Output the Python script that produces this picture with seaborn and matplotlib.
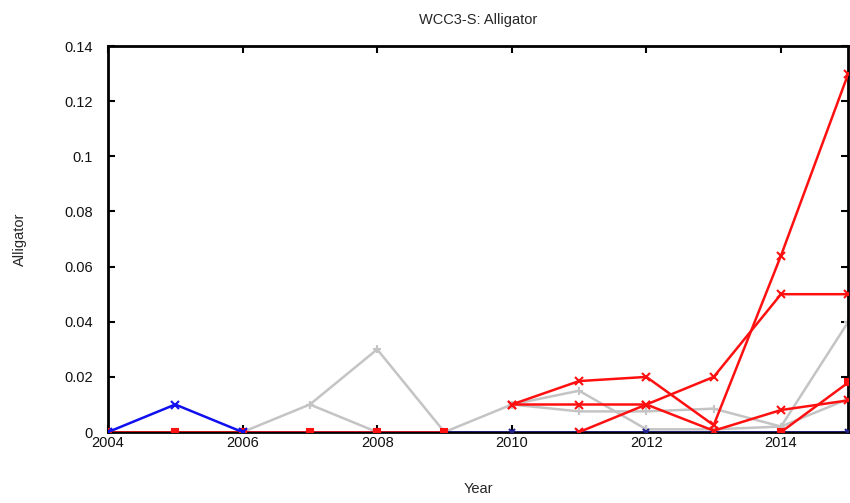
import numpy as np
import pandas as pd
import matplotlib
matplotlib.use("Agg")
import matplotlib.pyplot as plt
import seaborn as sns

years = [2004, 2005, 2006, 2007, 2008, 2009, 2010, 2011, 2012, 2013, 2014, 2015]
nan = np.nan

blue_a = [0, 0.01, 0, nan, nan, nan, nan, nan, nan, nan, nan, nan]
blue_zero = [nan, nan, 0, 0, 0, 0, 0, 0, 0, 0, 0, 0]
red_zero = [0, 0, 0, 0, 0, 0, nan, nan, nan, nan, nan, nan]
gray_a = [nan, nan, 0, 0.01, 0.03, 0, 0.01, 0.015, 0.001, 0.001, 0.002, 0.04]
gray_b = [nan, nan, nan, 0.01, 0, nan, nan, nan, nan, nan, nan, nan]
gray_c = [nan, nan, nan, nan, nan, nan, 0.01, 0.0075, 0.0075, 0.0085, 0.002, 0.012]
red_a = [nan, nan, nan, nan, nan, nan, 0.01, 0.0185, 0.02, 0.0025, 0.064, 0.13]
red_b = [nan, nan, nan, nan, nan, nan, 0.01, 0.01, 0.01, 0.0005, 0.008, 0.0115]
red_c = [nan, nan, nan, nan, nan, nan, nan, 0, 0.01, 0.02, 0.05, 0.05]
red_d = [nan, nan, nan, nan, nan, nan, nan, nan, nan, nan, 0, 0.018]

ytick_vals = [0, 0.02, 0.04, 0.06, 0.08, 0.1, 0.12, 0.14]
ytick_labels = ["0", "0.02", "0.04", "0.06", "0.08", "0.1", "0.12", "0.14"]
xtick_vals = [2004, 2006, 2008, 2010, 2012, 2014]

sns.set_theme(style="white")
plt.rcParams["font.family"] = ["Liberation Sans", "DejaVu Sans"]

fig = plt.figure(figsize=(8.5, 5.03), dpi=100)
ax = fig.add_axes([0.127, 0.141, 0.871, 0.7675])

GRAY = "#c4c4c4"
RED = "#ff1010"
BLUE = "#1010ee"
NAVY = "#202090"

def draw(vals, color, marker, ms=6, lw=1.8, z=2, ls="-"):
    df = pd.DataFrame({"Year": years, "v": vals}).dropna()
    sns.lineplot(data=df, x="Year", y="v", ax=ax, color=color, marker=marker,
                 markersize=ms, linewidth=lw, zorder=z, linestyle=ls,
                 markeredgecolor=color, markeredgewidth=1.5, sort=False)

draw(gray_a, GRAY, "+", ms=6, z=2)
draw(gray_b, GRAY, "+", ms=6, z=2)
draw(gray_c, GRAY, "+", ms=6, z=2)
draw(blue_zero, NAVY, "x", ms=5, z=3)
draw(red_zero, RED, "s", ms=4, z=4)
draw(blue_a, BLUE, "x", ms=6, z=5)
draw(red_a, RED, "x", ms=6, z=6)
draw(red_b, RED, "x", ms=6, z=6)
draw(red_c, RED, "x", ms=6, z=6)
draw(red_d, RED, "s", ms=4, z=6)

ax.set_xlim(2004, 2015)
ax.set_ylim(0, 0.14)
ax.set_xticks(xtick_vals)
ax.set_xticklabels([str(v) for v in xtick_vals])
ax.set_yticks(ytick_vals)
ax.set_yticklabels(ytick_labels)
ax.tick_params(direction="in", length=5, width=1.5, colors="black",
               labelsize=10.5, top=True, right=True, bottom=True, left=True,
               labelcolor="#111111")
ax.tick_params(axis="y", pad=11)
ax.tick_params(axis="x", pad=3)
for s in ax.spines.values():
    s.set_color("black")
    s.set_linewidth(2)
    s.set_visible(True)
ax.set_xlabel("Year", fontsize=10.5)
ax.set_ylabel("Alligator", fontsize=10.5)
ax.xaxis.set_label_coords(0.5, -0.13)
ax.yaxis.set_label_coords(-0.110, 0.5)
ax.set_title("WCC3-S: Alligator", fontsize=10.5, pad=16)
ax.grid(False)

fig.savefig("out.png", dpi=100)
